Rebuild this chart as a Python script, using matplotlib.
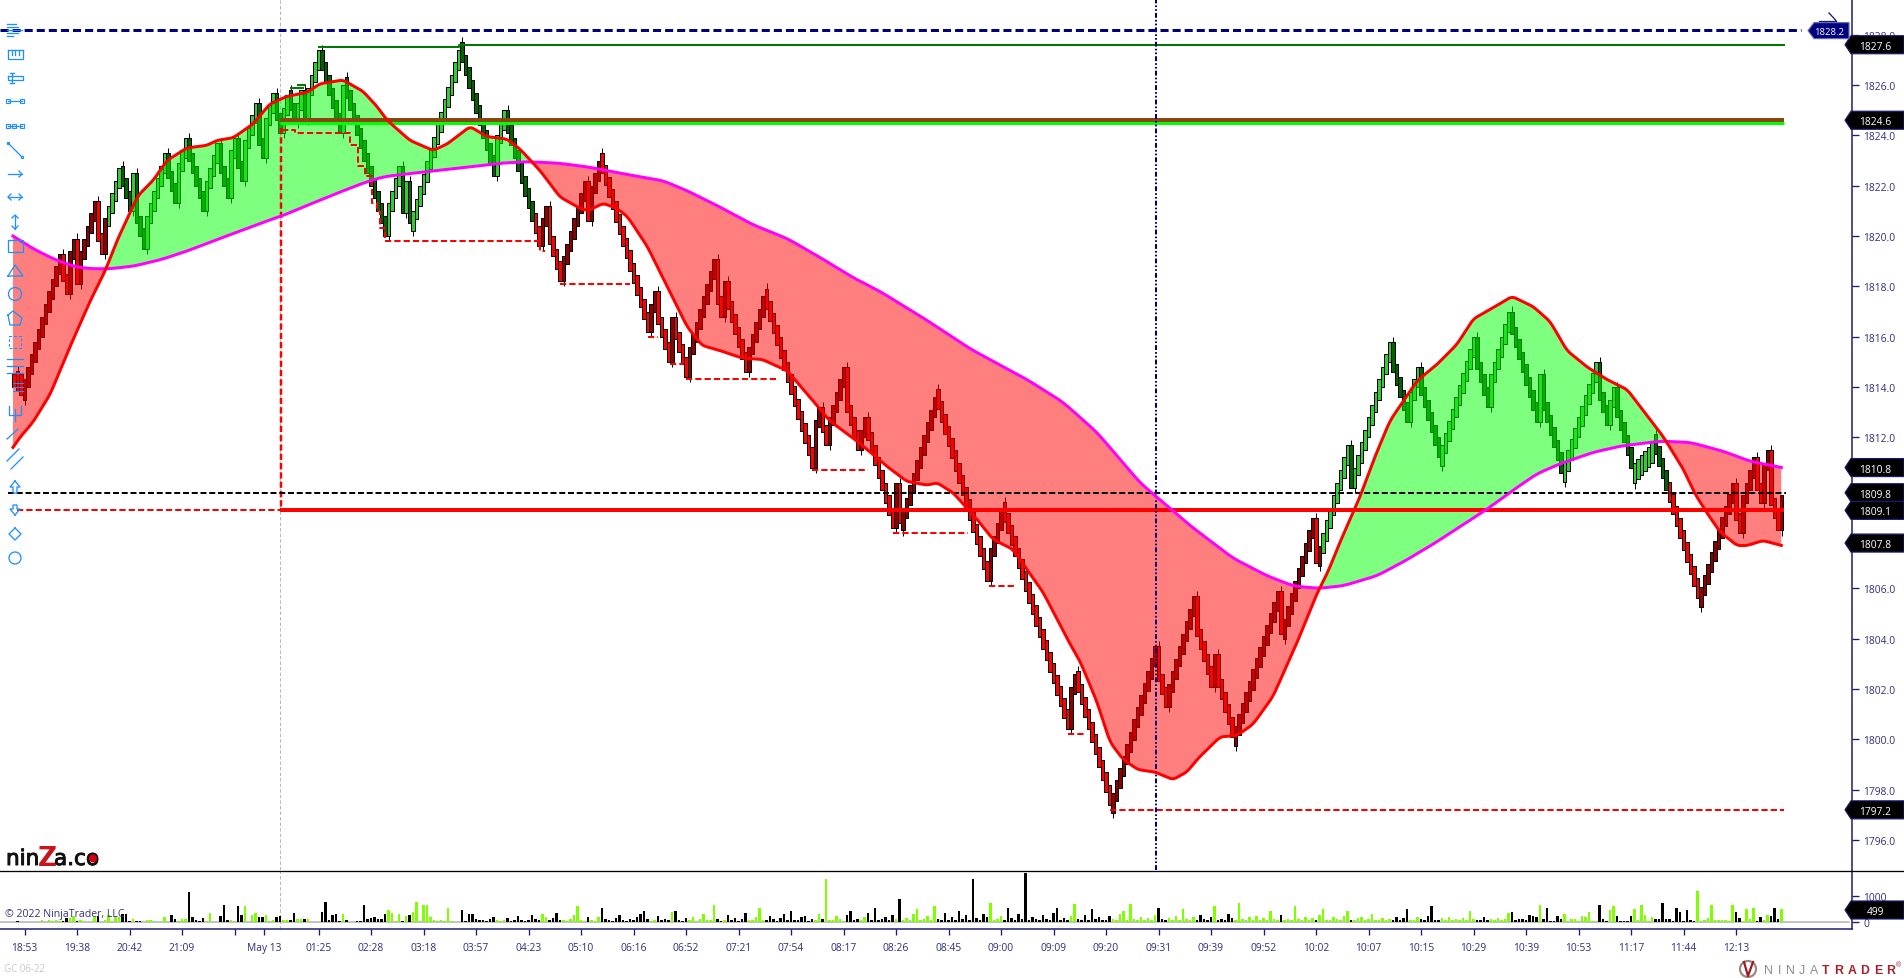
import numpy as np
import matplotlib
matplotlib.use('Agg')
import matplotlib.pyplot as plt
import matplotlib.patheffects as pe
from matplotlib.patches import Polygon, Rectangle, Circle

plt.rcParams['font.family'] = ['Open Sans', 'DejaVu Sans']
plt.rcParams['lines.scale_dashes'] = False

# ---------- data ----------
start_close = 1814.0
brick = 0.5
body = 0.8
leg_end_bar = [2,13,15,17,18,23,25,30,33,34,37,43,46,49,54,58,61,63,65,69,71,74,76,78,80,82,83,87,93,94,106,110,111,112,113,127,137,140,150,152,156,163,164,167,181,183,187,188,192,200,202,203,209,214,228,230,232,237,241,243,251,252,253,263,278,282,301,303,313,326,329,337,342,343,348,361,362,371,372,381,382,393,398,401,407,417,421,427,435,436,442,452,455,457,462,468,481,491,493,497,499,501,504,505]
leg_end_price = [1813.7,1819.3,1817.7,1819.9,1818.1,1821.4,1819.3,1822.7,1821.0,1822.5,1819.5,1823.3,1821.3,1823.9,1821.0,1823.7,1821.5,1823.9,1822.2,1825.3,1823.1,1825.7,1824.1,1825.6,1824.5,1825.8,1824.6,1827.4,1824.1,1826.0,1820.0,1822.8,1820.9,1822.2,1820.5,1827.4,1822.4,1825.0,1819.6,1821.2,1818.2,1822.2,1820.6,1823.0,1816.2,1817.8,1815.0,1816.8,1814.4,1819.1,1816.8,1818.2,1814.6,1817.6,1810.8,1813.2,1811.7,1814.8,1811.5,1812.8,1808.4,1810.2,1808.6,1813.6,1806.3,1809.1,1800.4,1802.6,1797.4,1803.7,1801.3,1805.7,1802.1,1803.4,1800.1,1805.9,1804.2,1808.8,1807.0,1811.7,1810.0,1815.8,1812.6,1814.8,1811.2,1816.0,1813.2,1817.0,1812.6,1814.5,1810.6,1815.0,1812.5,1814.0,1810.8,1811.8,1805.6,1810.2,1808.2,1811.2,1809.4,1811.5,1808.3,1809.7]

slow_bar = [-0.3,5.4,11.1,16.9,21.7,27.4,34,41.7,49.4,56.9,64.6,72.3,76.6,82.6,92.3,99.7,105.4,111.1,120.9,130.3,139.7,146.6,155.1,163.7,176.9,185.4,192.3,201.7,211.1,220.9,230.3,239.7,247.4,260.3,273.4,289.4,299.7,309.4,321.7,336,348.3,358,365.4,372.6,379.7,389.4,396.9,405.4,413.1,420.9,428.3,435.1,441.7,451.1,458.9,470.3,478.9,488.3,496,505.1]
slow_price = [1820.0,1819.5,1819.1,1818.8,1818.7,1818.7,1818.8,1819.05,1819.4,1819.8,1820.2,1820.6,1820.8,1821.15,1821.7,1822.1,1822.35,1822.45,1822.6,1822.75,1822.9,1822.95,1822.9,1822.75,1822.4,1822.2,1821.8,1821.15,1820.45,1819.9,1819.15,1818.35,1817.8,1816.7,1815.5,1814.3,1813.4,1812.2,1810.2,1808.5,1807.2,1806.5,1806.1,1806.0,1806.1,1806.5,1807.05,1807.75,1808.45,1809.15,1809.9,1810.55,1810.95,1811.4,1811.65,1811.85,1811.8,1811.45,1811.05,1810.8]

fast_bar = [-0.3,1.7,5.4,10.3,16,21.7,26,29.4,33.7,35.4,39.7,43.7,49.4,55.1,58,62.6,68.3,73.1,78,83.7,87.4,94,99.7,103.7,106.6,113.1,119.7,123.7,130.3,135.1,140.9,144.6,150.3,156,161.7,164,168.3,172.3,175.4,180.9,186.6,192.3,196.6,201.7,208,213.7,220.9,227.4,233.1,240.9,249.4,255.1,260.9,263.7,268.3,275.1,279.7,285.4,294,300.9,304.6,309.4,313.1,316.9,321.1,326,331.1,335.1,338,344.6,349.4,354,359.7,366.6,372.3,375.4,378.9,384.6,388.9,393.1,400.9,406.6,412.3,416.9,422.6,428,434,438.9,443.7,449.4,455.1,460.9,471.1,476.9,480.3,483.7,487.4,492.3,495.1,499.7,505.1]
fast_price = [1811.6,1812.0,1812.6,1813.7,1815.6,1817.4,1818.6,1819.8,1821.1,1821.6,1822.2,1823.0,1823.5,1823.6,1823.8,1823.9,1824.45,1825.25,1825.55,1825.7,1826.05,1826.2,1825.75,1825.15,1824.6,1823.8,1823.4,1823.65,1824.35,1823.95,1823.85,1823.45,1822.6,1821.55,1821.1,1821.0,1821.3,1821.1,1820.75,1819.6,1818.0,1816.4,1815.65,1815.45,1815.15,1815.1,1814.65,1813.6,1812.65,1811.85,1810.85,1810.25,1810.1,1810.2,1809.8,1808.75,1807.95,1807.55,1805.85,1804.0,1803.1,1801.5,1799.9,1799.2,1798.8,1798.7,1798.4,1798.7,1799.2,1800.1,1800.15,1800.6,1801.7,1803.85,1805.8,1806.65,1807.85,1809.65,1811.25,1812.65,1814.25,1814.9,1815.7,1816.7,1817.15,1817.6,1817.2,1816.6,1815.45,1814.8,1814.3,1813.9,1812.05,1810.75,1809.75,1809.0,1808.25,1807.7,1807.7,1807.9,1807.7]

volume = [0,30,10,0,0,0,0,0,60,0,60,20,60,40,20,150,150,250,50,60,
30,0,0,200,230,0,60,280,40,200,180,320,320,50,120,40,40,0,70,60,
30,0,0,200,0,280,130,20,130,130,1150,190,60,50,150,20,350,0,0,250,
660,80,80,10,610,280,610,0,280,350,200,190,280,20,60,210,240,60,60,60,
330,130,130,100,100,10,0,0,370,770,60,260,290,40,290,60,10,0,50,30,
650,130,150,180,120,130,300,480,330,20,320,40,220,260,400,770,40,660,660,180,
90,30,90,20,530,40,10,0,480,20,300,320,100,
90,60,40,120,200,60,30,80,150,40,60,220,90,40,70,260,120,60,300,180,
80,150,340,90,60,40,120,280,620,70,50,180,90,40,210,520,110,60,30,150,
260,80,40,120,60,190,320,420,100,50,80,240,60,130,70,380,420,90,40,160,
70,210,50,120,300,80,60,640,130,50,90,260,70,150,40,110,330,60,90,200,
520,80,60,240,110,50,140,300,70,420,90,60,180,250,50,120,70,320,110,1650,
90,60,220,130,50,280,420,70,110,60,190,340,90,520,60,130,210,70,260,120,
900,80,150,60,300,510,90,130,220,70,620,110,60,340,90,180,70,420,130,260,
90,1650,140,60,310,180,720,90,120,240,70,520,160,60,300,110,1880,90,200,130,
60,280,110,70,340,520,90,150,60,230,700,110,80,260,60,510,130,200,90,60,
240,110,70,320,410,80,700,130,60,210,90,170,60,280,520,100,70,150,60,240,
90,510,130,60,180,70,260,110,90,200,620,80,130,60,300,150,70,720,110,60,
180,90,230,60,140,70,420,110,60,260,90,130,70,620,100,60,210,80,150,60,
270,510,90,60,180,130,70,240,420,90,60,150,200,70,110,310,80,60,170,90,
130,60,210,80,140,510,90,60,190,110,70,240,620,90,60,150,80,200,70,130,
60,170,90,420,110,70,60,200,90,130,60,150,80,
130,360,380,60,100,100,60,280,220,200,650,100,550,50,30,250,130,320,30,100,100,40,220,190,380,30,20,650,130,40,480,600,250,30,30,20,220,510,60,650,280,50,200,130,110,730,130,100,40,540,400,40,450,60,20,1200,40,60,150,650,80,60,80,60,40,650,400,150,40,500,130,520,40,180,80,260,230,530,100,499]
lime_volume_bars = [232, 481, 505]

tick_bars = [3,18,33,48,63,71.4,87,102,117,132,147,162,177,192,207,222,237,252,267,282,297,312,327,342,357,372,387,402,417,432,447,462,477,492]
tick_labels = ['18:53','19:38','20:42','21:09','','May 13','01:25','02:28','03:18','03:57','04:23','05:10','06:16','06:52','07:21','07:54','08:17','08:26','08:45','09:00','09:09','09:20','09:31','09:39','09:52','10:02','10:07','10:15','10:29','10:39','10:53','11:17','11:44','12:13']

price_ticks = [1796.0+2*i for i in range(17)]
support_bar = [76.6,80.3,96,98.3,100.3,102.3,103.7,104.6,106,150,150.3,151.7,np.nan,156,176,np.nan,181,184,np.nan,187.4,191,np.nan,192,218,np.nan,228,244,np.nan,251,272.6,np.nan,278.6,286,np.nan,301,306,np.nan,313,505.7]
support_price = [1824.2,1824.1,1823.6,1822.8,1822.4,1821.3,1821.0,1820.3,1819.8,1819.8,1819.4,1819.4,np.nan,1818.1,1818.1,np.nan,1816.0,1816.0,np.nan,1814.9,1814.9,np.nan,1814.3,1814.3,np.nan,1810.7,1810.7,np.nan,1808.2,1808.2,np.nan,1806.1,1806.1,np.nan,1800.2,1800.2,np.nan,1797.2,1797.2]
resist_bar = [79,82.5,np.nan,81,83,np.nan,87,127,127,505.7]
resist_price = [1825.9,1825.9,np.nan,1826.0,1826.0,np.nan,1827.5,1827.5,1827.6,1827.6]
last_labels = [1827.6,1824.6,1810.8,1809.8,1809.1,1807.8,1797.2]
level_top = 1828.2
level_black = 1809.8
level_red = 1809.13
level_brown = 1824.6
level_lime = 1824.5
session_bar = 76
cursor_bar = 326.3

# ---------- build bars ----------
opens, closes, wick_lo, wick_hi, ups = [start_close + 0.5], [start_close], [start_close], [start_close + 0.5], [False]
for e, p in zip(leg_end_bar, leg_end_price, strict=True):
    n = e - (len(closes) - 1)
    prev = closes[-1]
    sgn = 1 if p > prev else -1
    step = min(brick, abs(p - prev) / n)
    for k in range(n):
        c = p - sgn * step * (n - 1 - k)
        o = c - sgn * max(abs(c - closes[-1]), body)
        lo, hi = min(o, c), max(o, c)
        if k == 0:
            if sgn > 0:
                lo -= 0.2
            else:
                hi += 0.2
        opens.append(o); closes.append(c); wick_lo.append(lo); wick_hi.append(hi); ups.append(sgn > 0)
opens, closes = np.array(opens), np.array(closes)
wick_lo, wick_hi = np.array(wick_lo), np.array(wick_hi)
up = np.array(ups)
bars = np.arange(len(closes))
if len(volume) != len(closes):
    raise SystemExit(f'volume {len(volume)} vs bars {len(closes)}')

fast_i = np.interp(bars, fast_bar, fast_price)
slow_i = np.interp(bars, slow_bar, slow_price)
bull = fast_i >= slow_i
bar_col = np.where(bull, np.where(up, '#32CD32', '#006400'), np.where(up, '#8B0000', '#FF0000'))

# ---------- figure ----------
W, H = 1904, 979
fig = plt.figure(figsize=(W / 100, H / 100), dpi=100, facecolor='white')
NAVY = '#1A1A6E'
TXT = '#2E2E7E'
px = 0.72
ax = fig.add_axes([0, 1 - 871 / H, 1852 / W, 871 / H])
vx = fig.add_axes([0, 1 - 930 / H, 1852 / W, 58 / H], sharex=ax)
ax.set_xlim(-4, (1852 - 14) / 3.5)
ax.set_ylim(1794.81, 1829.417)
vx.set_ylim(-269, 1961)

# bars
ax.vlines(bars, wick_lo, wick_hi, color='black', lw=1 * px, zorder=2)
ax.bar(bars, closes - opens, bottom=opens, width=1.1, color=bar_col, edgecolor='black', lw=1 * px, zorder=2.1)

# curves rounded for drawing: read points joined on a fine grid, corners softened
def soft(xs, ys, grid, win):
    v = np.interp(grid, xs, ys)
    pad = win // 2
    v2 = np.concatenate([2 * v[0] - v[pad:0:-1], v, 2 * v[-1] - v[-2:-pad - 2:-1]])
    return np.convolve(v2, np.ones(win) / win, mode='valid')
dense = np.arange(-0.3, 505.2, 0.25)
fd = soft(fast_bar, fast_price, dense, 9)
sd = soft(slow_bar, slow_price, dense, 17)
ax.fill_between(dense, fd, sd, where=fd >= sd, color='#00FF00', alpha=0.5, lw=0, zorder=3, interpolate=True)
ax.fill_between(dense, fd, sd, where=fd < sd, color='#FF0000', alpha=0.5, lw=0, zorder=3, interpolate=True)

# levels
ax.plot(support_bar, support_price, color='red', lw=2 * px, ls=(0, (4.5, 2.2)), drawstyle='steps-post', zorder=3.5)
ax.plot([session_bar + 0.3] * 2, [level_lime - 0.2, level_red], color='red', lw=2.5 * px, ls=(0, (4.5, 2.2)), zorder=3.5)
ax.plot([0.8, session_bar], [level_red] * 2, color='red', lw=2 * px, ls=(0, (4.5, 2.2)), zorder=3.5)
ax.plot([-1.7, 506.2], [level_black] * 2, color='black', lw=2 * px, ls=(0, (4.3, 2)), zorder=3.6)
ax.plot([-4, 510.6], [level_top] * 2, color='#00007F', lw=3 * px, ls=(0, (5.8, 2.9)), zorder=3.6)
ax.plot([session_bar, 505.7], [level_red] * 2, color='#FF0000', lw=4 * px, zorder=3.7, solid_capstyle='butt')
ax.plot(resist_bar, resist_price, color='#007A00', lw=2 * px, zorder=3.6)
ax.plot([session_bar, 505.7], [level_lime] * 2, color='#00FF00', lw=3 * px, zorder=3.7, solid_capstyle='butt')
ax.plot([session_bar, 505.7], [level_brown] * 2, color='#8B4513', lw=4 * px, zorder=3.8, solid_capstyle='butt')

# moving averages
ax.plot(dense, sd, color='#FF00FF', lw=3 * px, zorder=4)
ax.plot(dense, fd, color='#FF0000', lw=3 * px, zorder=4.1)

# verticals
for a in (ax, vx):
    a.axvline(session_bar, color='#B8B8B8', lw=1 * px, ls=(0, (2.5, 1.5)), zorder=1)
ax.axvline(cursor_bar, color='#00007F', lw=2 * px, ls=(0, (3.5, 1.5, 1.2, 1.5, 1.2, 1.5)), zorder=3.9)

# volume
vol = np.array(volume)
vol_lime = up.copy()
vol_lime[lime_volume_bars] = True
vx.axhline(0, xmax=1849 / 1852, color='#B0B0B0', lw=1.5 * px, zorder=1)
vx.bar(bars, vol, width=0.72, color=np.where(vol_lime, '#7FFF00', '#000000'), lw=0, zorder=2)

# axes cosmetics
for a in (ax, vx):
    a.patch.set_alpha(0)
    for s in ('top', 'left'):
        a.spines[s].set_visible(False)
    a.spines['right'].set_color(NAVY)
    a.spines['right'].set_linewidth(1.5 * px)
    a.yaxis.tick_right()
    a.tick_params(axis='y', colors=NAVY, labelcolor=TXT, length=5, width=1.3 * px, labelsize=7.4, pad=3)
ax.spines['bottom'].set_visible(False)
ax.tick_params(axis='x', bottom=False, labelbottom=False)
ax.set_yticks(price_ticks)
ax.set_yticklabels([f'{v:.1f}' for v in price_ticks])
vx.set_yticks([0, 1000])
vx.set_yticklabels(['0', '1000'])
vx.spines['bottom'].set_color(NAVY)
vx.spines['bottom'].set_linewidth(1.5 * px)
vx.set_xticks(tick_bars)
vx.set_xticklabels(tick_labels)
vx.tick_params(axis='x', colors=NAVY, labelcolor=TXT, length=4.3, width=1.3 * px, labelsize=7.4, pad=5)

# ---------- overlay in pixel coordinates ----------
ov = fig.add_axes([0, 0, 1, 1], zorder=10)
ov.set_xlim(0, W)
ov.set_ylim(H, 0)
ov.axis('off')
fig.canvas.draw()
def ypx(price):
    return H - ax.transData.transform((0, price))[1] * (H / fig.bbox.height)

ov.plot([0, 1904], [871.5, 871.5], color='black', lw=1.3 * px)

def tag(y, text, x0=1845, x1=1904, h=18, fc='black', ec='#1A1A6E', size=7.4):
    ov.add_patch(Polygon([(x0, y), (x0 + 6, y - h / 2), (x1, y - h / 2), (x1, y + h / 2), (x0 + 6, y + h / 2)],
                         closed=True, fc=fc, ec=ec, lw=1.2 * px, zorder=5))
    ov.text((x0 + 6 + x1) / 2 - 2, y, text, color='white', ha='center', va='center_baseline', fontsize=size, zorder=6)

for v in last_labels:
    tag(ypx(v), f'{v:.1f}')
tag(ypx(level_top) + 1, f'{level_top:.1f}', x0=1808, x1=1849, h=16, fc='#00007F', ec='#6A6AB0', size=6.8)
tag(911, '499')
ov.plot([1819, 1836], [21.5, 21.5], color=NAVY, lw=1.3 * px)
ov.plot([1829, 1836, 1831], [14, 21.5, 27], color=NAVY, lw=1.3 * px)

ov.text(5, 915, '© 2022 NinjaTrader, LLC', color='#34347E', fontsize=7.6, va='center')
ov.text(4, 970, 'GC 06-22', color='#C8C8C8', fontsize=7, va='center')

# ninZa.co logo
stroke = [pe.withStroke(linewidth=0.7, foreground='#111111')]
ov.text(6, 866, 'nin', color='#111111', fontsize=15.5, family='DejaVu Sans', va='baseline', path_effects=stroke)
ov.text(38, 866, 'Z', color='#C8141C', fontsize=19, family='DejaVu Sans', weight='bold', va='baseline')
ov.text(54, 866, 'a.c', color='#111111', fontsize=15.5, family='DejaVu Sans', va='baseline', path_effects=stroke)
ov.text(86, 866, 'o', color='#111111', fontsize=15.5, family='DejaVu Sans', va='baseline', path_effects=stroke)
ov.add_patch(Circle((93, 859.5), 4, fc='#D00010', ec='none', zorder=6))

# NinjaTrader logo
ov.add_patch(Circle((1748, 970), 8, fc='none', ec='#9A8A80', lw=2.2 * px))
ov.plot([1744, 1748, 1753], [963, 977, 963], color='#A01820', lw=2.2 * px)
for i, ch in enumerate('NINJA'):
    ov.text(1768 + i * 11.4, 970, ch, color='#8C8C8C', fontsize=8.8, ha='center', va='center_baseline', family='Liberation Sans')
for i, ch in enumerate('TRADER'):
    ov.text(1826 + i * 13, 970, ch, color='#A8202A', fontsize=8.8, ha='center', va='center_baseline', family='Liberation Sans', weight='bold')
ov.text(1896, 966, '®', color='#A8202A', fontsize=5, va='center', family='Liberation Sans')

# drawing-tool icons on the left edge
IC = '#1E90FF'
def L(xs, ys, **k):
    ov.plot(xs, ys, color=IC, lw=k.pop('lw', 1.3 * px), **k)
for y, x1 in zip((25, 28, 31, 34, 37), (16, 18, 22, 18, 13)):
    L([7, x1], [y, y])
L([8, 8, 23, 23], [51, 60, 60, 51]); L([8, 23], [51, 51])
for x in (12, 15, 19):
    L([x, x], [51, 56])
L([8, 23, 23, 8, 8], [77, 77, 81, 81, 77]); L([12, 12], [74, 84]); L([10, 14], [74, 74]); L([10, 14], [84, 84])
L([8, 22], [102, 102], marker='s', ms=2.5, mfc='none', mew=.8)
L([8, 14, 22], [127, 127, 127], marker='s', ms=2.5, mfc='none', mew=.8)
L([8, 22], [144, 158], marker='s', ms=2, mfc='none', mew=.8)
L([8, 22], [175, 175]); L([19, 22, 19], [172, 175, 178])
L([8, 22], [198, 198]); L([11, 8, 11], [195, 198, 201]); L([19, 22, 19], [195, 198, 201])
L([15, 15], [216, 230]); L([12, 15, 18], [219, 216, 219]); L([12, 15, 18], [227, 230, 227])
ov.add_patch(Rectangle((8, 241), 15, 12, fc='none', ec=IC, lw=1.3 * px))
L([8, 15, 23, 8], [277, 266, 277, 277])
ov.add_patch(Circle((15, 295), 6.5, fc='none', ec=IC, lw=1.3 * px))
L([8, 13, 22, 20, 10, 8], [316, 312, 319, 326, 326, 316])
ov.add_patch(Rectangle((9, 337), 12, 12, fc='none', ec=IC, lw=1.1 * px, ls=(0, (2, 1.4))))
for y in (360, 367, 374):
    L([7, 23], [y, y])
for y in (384, 388, 392):
    L([13, 23], [y, y], lw=.8)
L([9, 9, 21, 21], [407, 416, 416, 407]); L([15, 15], [410, 422])
L([7, 18], [440, 430])
L([7, 19], [462, 450]); L([11, 23], [470, 458])
L([15, 10, 13, 13, 17, 17, 20, 15], [482, 488, 488, 494, 494, 488, 488, 482])
L([15, 10, 13, 13, 17, 17, 20, 15], [516, 510, 510, 506, 506, 510, 510, 516])
L([15, 21, 15, 9, 15], [529, 535, 541, 535, 529])
ov.add_patch(Circle((15, 559), 6, fc='none', ec=IC, lw=1.3 * px))

fig.savefig('out.png', dpi=100, facecolor='white')
